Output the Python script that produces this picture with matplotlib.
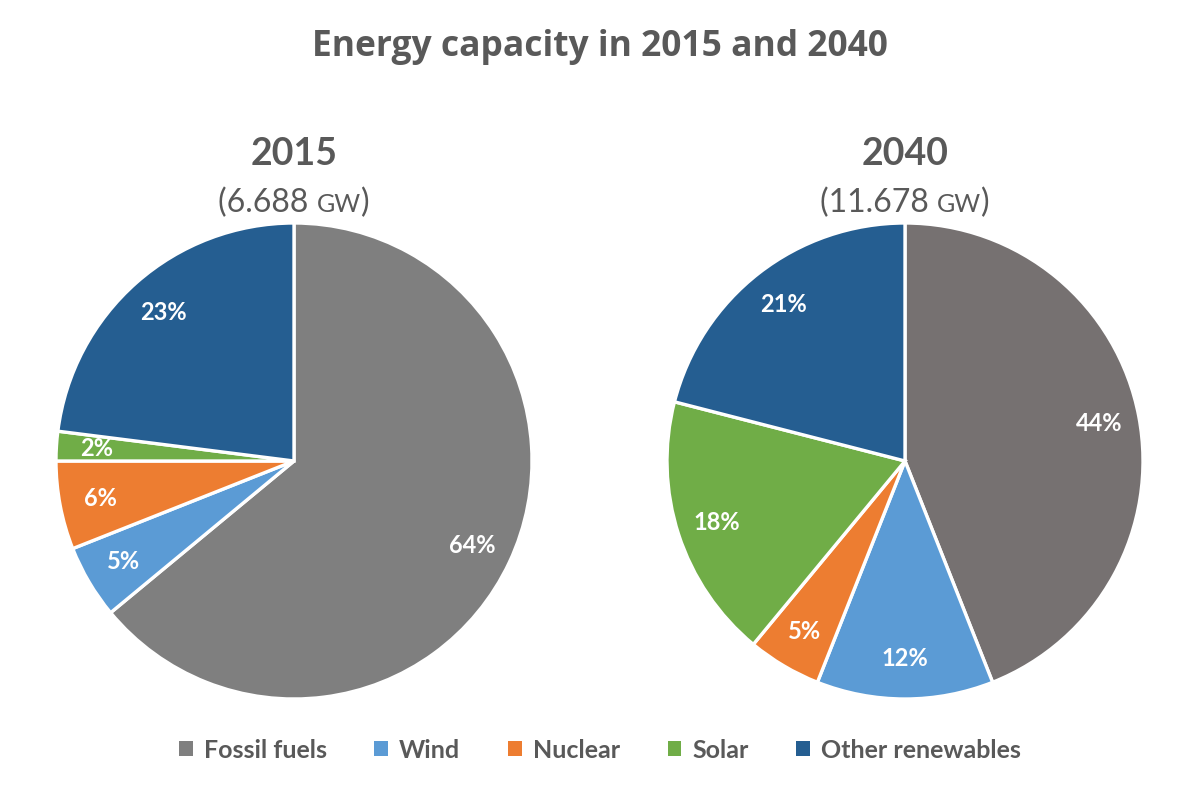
import matplotlib
matplotlib.use("Agg")
import matplotlib.pyplot as plt
from matplotlib.patches import Patch

categories = ["Fossil fuels", "Wind", "Nuclear", "Solar", "Other renewables"]
share_2015 = [64, 5, 6, 2, 23]
share_2040 = [44, 12, 5, 18, 21]
years = ["2015", "2040"]
totals = ["6.688", "11.678"]

colors_2015 = ["#7f7f7f", "#5b9bd5", "#ed7d31", "#70ad47", "#255e91"]
colors_2040 = ["#767171", "#5b9bd5", "#ed7d31", "#70ad47", "#255e91"]
TXT = "#595959"

W, H = 1200, 809
fig = plt.figure(figsize=(W / 100, H / 100), dpi=100)
plt.rcParams["font.family"] = ["Lato", "DejaVu Sans"]
renderer = fig.canvas.get_renderer()


def pie_axes(cx, cy, r):
    return fig.add_axes([(cx - r) / W, (H - cy - r) / H, 2 * r / W, 2 * r / H])


def centered_pieces(cx, cy, pieces):
    # pieces: list of (text, fontsize); drawn side by side, centred at cx (pixels)
    objs = [fig.text(0, 0, s, fontsize=fs, color=TXT, va="baseline")
            for s, fs in pieces]
    widths = [o.get_window_extent(renderer).width for o in objs]
    x = cx - sum(widths) / 2
    for o, w in zip(objs, widths):
        o.set_position((x / W, 1 - cy / H))
        x += w


for cx, vals, cols, year, tot in [(294, share_2015, colors_2015, years[0], totals[0]),
                                  (905, share_2040, colors_2040, years[1], totals[1])]:
    ax = pie_axes(cx, 461, 238)
    ax.pie(vals, colors=cols, startangle=90, counterclock=False,
           autopct="%d%%", pctdistance=0.83,
           wedgeprops=dict(edgecolor="white", linewidth=2.4),
           textprops=dict(color="white", fontsize=17, fontweight="bold"))
    ax.set_xlim(-1.0, 1.0)
    ax.set_ylim(-1.0, 1.0)
    ax.set_axis_off()
    fig.text(cx / W, 1 - 154 / H, year, ha="center", va="center",
             fontsize=27, fontweight="bold", color=TXT)
    centered_pieces(cx, 212, [(f"({tot} ", 23), ("GW", 18), (")", 23)])

fig.text(0.5, 1 - 47 / H, "Energy capacity in 2015 and 2040", ha="center",
         va="center", fontsize=25.5, fontweight="bold", color=TXT,
         family=["Open Sans", "DejaVu Sans"])

handles = [Patch(facecolor=c, edgecolor="none", label=l)
           for c, l in zip(colors_2015, categories)]
leg = fig.legend(handles=handles, loc="center", ncol=5,
                 bbox_to_anchor=(0.5, 1 - 750 / H), frameon=False,
                 handlelength=0.55, handleheight=0.55, handletextpad=0.45,
                 columnspacing=1.9,
                 prop=dict(size=18, weight="bold"))
for t in leg.get_texts():
    t.set_color(TXT)

fig.savefig("out.png", dpi=100, facecolor="white")
